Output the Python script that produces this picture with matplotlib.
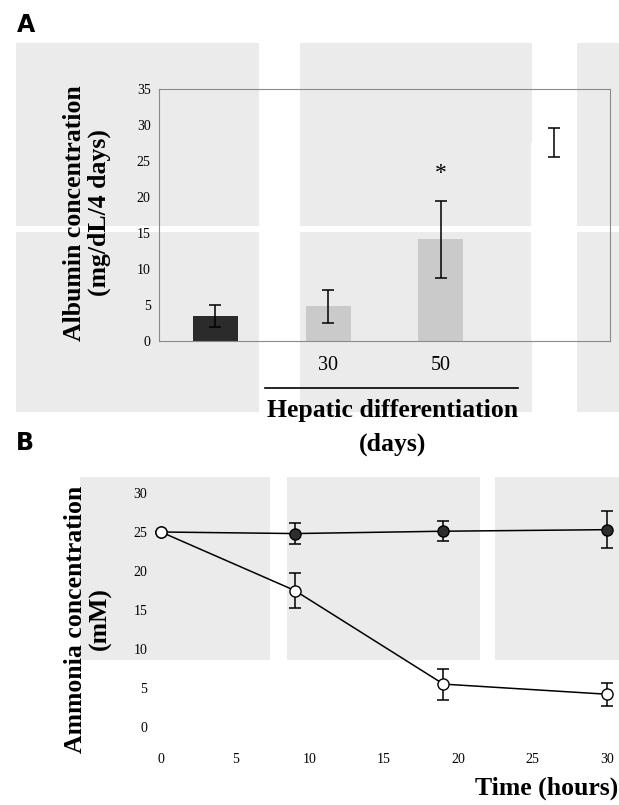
import matplotlib
matplotlib.use("Agg")
import matplotlib.pyplot as plt
from matplotlib.patches import Rectangle

# ---------------- data ----------------
# Panel A: albumin secretion
a_categories = ["", "30", "50", ""]
a_values = [3.5, 4.8, 14.1, 27.6]
a_errors = [1.5, 2.3, 5.3, 2.0]
a_colors = ["#2b2b2b", "#cacaca", "#cacaca", "#ffffff"]
a_ticks = [0, 5, 10, 15, 20, 25, 30, 35]

# Panel B: ammonia clearance
b_time_filled = [0, 9, 19, 30]
b_filled = [25.0, 24.8, 25.1, 25.3]
b_filled_err = [0.0, 1.3, 1.25, 2.35]
b_time_open = [0, 9, 19, 30]
b_open = [25.0, 17.5, 5.5, 4.2]
b_open_err = [0.0, 2.2, 2.0, 1.45]
b_xticks = [0, 5, 10, 15, 20, 25, 30]
b_yticks = [0, 5, 10, 15, 20, 25, 30]

W, H = 619, 805
fig = plt.figure(figsize=(W / 100, H / 100), dpi=100)
fig.patch.set_facecolor("white")

def fx(px):
    return px / W

def fy(py):
    return 1 - py / H

# faint scan background blocks (pixel boxes x0, y0, x1, y1)
bg_blocks = [(16, 43, 259, 226), (16, 232, 259, 412),
             (300, 43, 532, 226), (300, 232, 532, 412),
             (577, 43, 619, 226), (577, 232, 619, 412),
             (80, 477, 270, 660), (287, 477, 480, 660), (495, 477, 619, 660)]
for x0, y0, x1, y1 in bg_blocks:
    fig.patches.append(Rectangle((fx(x0), fy(y1)), fx(x1 - x0), (y1 - y0) / H,
                                 transform=fig.transFigure, facecolor="#ebebeb",
                                 edgecolor="none", zorder=-10))

serif = ["Liberation Serif", "DejaVu Serif"]
sans = ["DejaVu Sans"]

# ---------------- Panel A ----------------
axA = fig.add_axes([fx(159), fy(341), fx(610 - 159), (341 - 89) / H])
axA.set_facecolor("none")
xpos = list(range(len(a_values)))
axA.bar(xpos, a_values, width=0.4, color=a_colors, edgecolor="none", zorder=2)
axA.errorbar(xpos, a_values, yerr=a_errors, fmt="none", ecolor="black",
             elinewidth=1.1, capsize=4, capthick=1.1, zorder=3)
axA.set_xlim(-0.5, len(a_values) - 0.5)
axA.set_ylim(0, 35)
axA.set_yticks(a_ticks)
axA.set_yticklabels([str(t) for t in a_ticks], family=serif, fontsize=10)
axA.set_xticks(xpos)
axA.set_xticklabels(a_categories, family=serif, fontsize=14.5)
axA.tick_params(axis="y", length=0, pad=6)
axA.tick_params(axis="x", length=0, pad=11)
for s in axA.spines.values():
    s.set_color("#8a8a8a")
    s.set_linewidth(0.8)
axA.text(2, 23.3, "*", ha="center", va="center", fontsize=17, family=serif)

# bracket line & label under the differentiation groups
fig.add_artist(plt.Line2D([fx(265), fx(518)], [fy(388), fy(388)],
                          transform=fig.transFigure, color="black", lw=1.2))
fig.text(fx(393), fy(410), "Hepatic differentiation", ha="center", va="center",
         family=serif, fontweight="bold", fontsize=18.5)
fig.text(fx(393), fy(444), "(days)", ha="center", va="center",
         family=serif, fontweight="bold", fontsize=18.5)
fig.text(fx(87), fy(213), "Albumin concentration\n(mg/dL/4 days)", rotation=90,
         ha="center", va="center", multialignment="center", family=serif,
         fontweight="bold", fontsize=18.5, linespacing=1.05)
fig.text(fx(26), fy(25), "A", ha="center", va="center", family=sans,
         fontweight="bold", fontsize=17)

# ---------------- Panel B ----------------
axB = fig.add_axes([fx(161), fy(727), fx(607 - 161), (727 - 493) / H])
axB.set_facecolor("none")
axB.errorbar(b_time_filled, b_filled, yerr=b_filled_err, fmt="-o", color="black",
             mfc="#2e2e2e", mec="black", ms=8, lw=1.1, elinewidth=1.1,
             capsize=4, capthick=1.1, clip_on=False, zorder=3)
axB.errorbar(b_time_open, b_open, yerr=b_open_err, fmt="-o", color="black",
             mfc="white", mec="black", ms=8, lw=1.1, elinewidth=1.1,
             capsize=4, capthick=1.1, clip_on=False, zorder=4)
axB.set_xlim(0, 30)
axB.set_ylim(0, 30)
axB.set_xticks(b_xticks)
axB.set_xticklabels([str(t) for t in b_xticks], family=serif, fontsize=10)
axB.set_yticks(b_yticks)
axB.set_yticklabels([str(t) for t in b_yticks], family=serif, fontsize=10)
axB.tick_params(axis="x", length=0, pad=19)
axB.tick_params(axis="y", length=0, pad=10)
for s in axB.spines.values():
    s.set_visible(False)

fig.text(fx(88), fy(619), "Ammonia concentration\n(mM)", rotation=90,
         ha="center", va="center", multialignment="center", family=serif,
         fontweight="bold", fontsize=18.5, linespacing=1.05)
fig.text(fx(618), fy(788), "Time (hours)", ha="right", va="center",
         family=serif, fontweight="bold", fontsize=18.5)
fig.text(fx(25), fy(443), "B", ha="center", va="center", family=sans,
         fontweight="bold", fontsize=17)

fig.savefig("out.png", dpi=100)
